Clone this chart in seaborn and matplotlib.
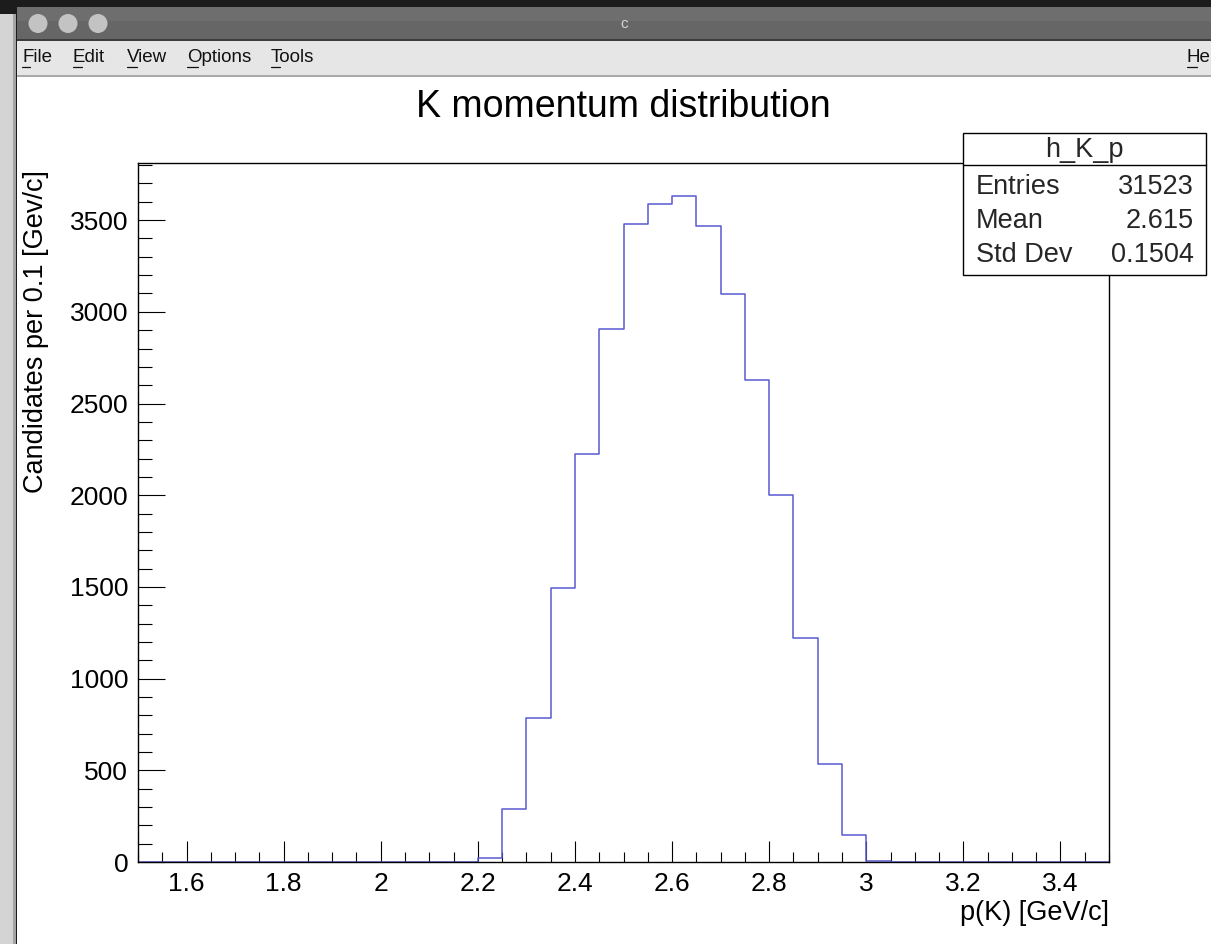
import numpy as np
import pandas as pd
import matplotlib
matplotlib.use("Agg")
import matplotlib.pyplot as plt
from matplotlib.patches import Rectangle, Circle, FancyBboxPatch
from matplotlib.ticker import MultipleLocator, FuncFormatter
import seaborn as sns

# ---------------- data ----------------
bin_low = [2.20, 2.25, 2.30, 2.35, 2.40, 2.45, 2.50, 2.55, 2.60,
           2.65, 2.70, 2.75, 2.80, 2.85, 2.90, 2.95, 3.00]
counts = [23, 288, 786, 1494, 2225, 2905, 3480, 3590, 3630,
          3467, 3095, 2628, 2000, 1219, 537, 148, 8]
bin_width = 0.05
x_range = (1.5, 3.5)
hist_name = "h_K_p"
stat_labels = ["Entries", "Mean", "Std Dev"]
stat_values = ["31523", "2.615", "0.1504"]
title = "K momentum distribution"
xlabel = "p(K) [GeV/c]"
ylabel = "Candidates per 0.1 [Gev/c]"
menu_items = ["File", "Edit", "View", "Options", "Tools"]

# ---------------- figure ----------------
sns.set_theme(style="white")
plt.rcParams["font.family"] = ["Liberation Sans", "DejaVu Sans"]

W, H = 1211, 944
fig = plt.figure(figsize=(W / 100, H / 100), dpi=100)

# window chrome (background layer, pixel coordinates)
bg = fig.add_axes([0, 0, 1, 1], zorder=-10)
bg.set_xlim(0, W)
bg.set_ylim(H, 0)
bg.axis("off")
bg.add_patch(Rectangle((0, 0), W, H, color="#1c1c1c", lw=0))
bg.add_patch(Rectangle((0, 14), 15, H, color="#d4d4d4", lw=0))
bg.add_patch(Rectangle((13, 14), 3, H, color="#a4a4a4", lw=0))
bg.add_patch(FancyBboxPatch((17, 7), W, 60, boxstyle="round,pad=0,rounding_size=6",
                            color="#666666", lw=0))
bg.add_patch(Rectangle((17, 7), W, 14, color="#6e6e6e", lw=0))
bg.add_patch(Rectangle((17, 39), W, 1.5, color="#3c3c3c", lw=0))
bg.add_patch(Rectangle((17, 40.5), W, 35, color="#e6e6e6", lw=0))
bg.add_patch(Rectangle((17, 75), W, 2, color="#a9a9a9", lw=0))
bg.add_patch(Rectangle((17, 77), W, H, color="white", lw=0))
for cx in (38, 68, 98):
    bg.add_patch(Circle((cx, 23.5), 9.5, color="#c3c3c3", lw=0))
bg.text(624, 24, "c", color="#d6d6d6", fontsize=11, ha="center", va="center")
menu_x = [22, 73, 127, 187, 271]
for mx, item in zip(menu_x, menu_items):
    bg.text(mx, 58, item, fontsize=13.5, ha="left", va="center", color="#111111")
bg.text(1187, 58, "He", fontsize=13.5, ha="left", va="center", color="#111111")
for mx, w in zip(menu_x + [1187], [8, 9, 10, 11, 9, 10]):
    bg.plot([mx, mx + w], [67, 67], color="#111111", lw=0.9)

# main plot
ax = fig.add_axes([138 / W, (H - 862) / H, (1109 - 138) / W, (862 - 163) / H])
ax.set_facecolor("none")
df = pd.DataFrame({"p": np.array(bin_low) + bin_width / 2, "n": counts})
sns.histplot(data=df, x="p", weights="n", binwidth=bin_width, binrange=x_range,
             element="step", fill=False, color="#5858d2", linewidth=1.1, ax=ax)
ax.set_xlim(*x_range)
ax.set_ylim(0, 1.05 * max(counts))

ax.xaxis.set_major_locator(MultipleLocator(0.2))
ax.xaxis.set_minor_locator(MultipleLocator(0.05))
ax.yaxis.set_major_locator(MultipleLocator(500))
ax.yaxis.set_minor_locator(MultipleLocator(100))
ax.xaxis.set_major_formatter(FuncFormatter(lambda v, p: f"{round(v, 3):g}"))
ax.yaxis.set_major_formatter(FuncFormatter(lambda v, p: f"{int(round(v))}"))
ax.tick_params(axis="both", which="both", direction="in", top=False, right=False,
               bottom=True, left=True,
               color="black", width=0.8, labelsize=19, labelcolor="black")
ax.tick_params(axis="x", which="major", length=15, pad=7)
ax.tick_params(axis="x", which="minor", length=7.5)
ax.tick_params(axis="y", which="major", length=19.5, pad=7)
ax.tick_params(axis="y", which="minor", length=10)
for s in ax.spines.values():
    s.set_color("black")
    s.set_linewidth(1.0)

ax.set_title(title, fontsize=27, pad=33, color="black")
ax.set_xlabel(xlabel, fontsize=19.5, loc="right", color="black")
ax.xaxis.set_label_coords(1.0, -0.054)
ax.set_ylabel(ylabel, fontsize=19.5, loc="top", color="black")
ax.yaxis.set_label_coords(-0.092, 0.99)

# stat box (overlay, pixel coordinates)
ov = fig.add_axes([0, 0, 1, 1], zorder=10)
ov.set_xlim(0, W)
ov.set_ylim(H, 0)
ov.axis("off")
ov.patch.set_alpha(0)
bx0, by0, bx1, by1 = 963, 133, 1206, 275
ov.add_patch(Rectangle((bx0, by0), bx1 - bx0, by1 - by0, facecolor="white",
                       edgecolor="black", lw=1.0))
ov.plot([bx0, bx1], [165, 165], color="black", lw=1.0)
ov.text((bx0 + bx1) / 2, 150, hist_name, fontsize=19.5, ha="center", va="center")
for i, (lab, val) in enumerate(zip(stat_labels, stat_values)):
    yy = 187 + i * 34
    ov.text(976, yy, lab, fontsize=19.5, ha="left", va="center")
    ov.text(1194, yy, val, fontsize=19.5, ha="right", va="center")

fig.savefig("out.png", dpi=100)
